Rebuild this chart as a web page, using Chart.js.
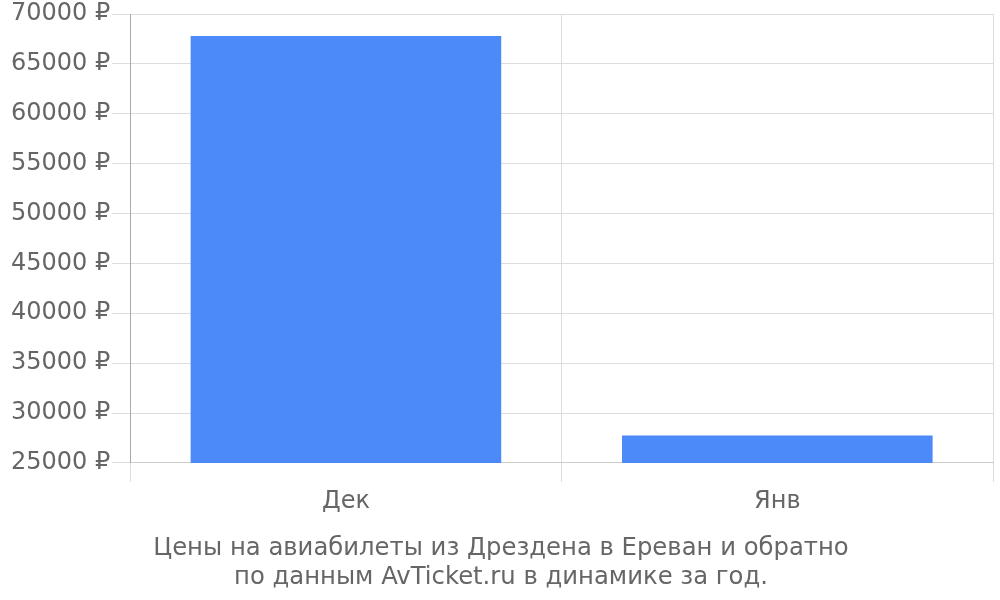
<!DOCTYPE html>
<html><head><meta charset="utf-8">
<script src="https://cdn.jsdelivr.net/npm/chart.js@4"></script>
<style>html,body{margin:0;padding:0;background:#fff}#w{width:1000px;height:600px}</style>
</head><body><div id="w"><canvas id="c"></canvas></div>
<script>
const categories = ["Дек", "Янв"];
const prices = [67800, 27750];
const titleLines = ["Цены на авиабилеты из Дрездена в Ереван и обратно", "по данным AvTicket.ru в динамике за год."];
Chart.defaults.font.family = "'DejaVu Sans'";
Chart.defaults.font.size = 24;
Chart.defaults.color = "#666";
new Chart(document.getElementById('c'), {
  type: 'bar',
  data: { labels: categories, datasets: [{ data: prices, backgroundColor: '#4c89f9', borderWidth: 0 }] },
  options: {
    responsive: true, maintainAspectRatio: false, animation: false,
    layout: { padding: { left: 9, right: 7, top: 0, bottom: 8 } },
    plugins: { legend: { display: false }, tooltip: { enabled: false },
      title: { display: true, position: 'bottom', text: titleLines, font: { size: 24.3, weight: 'normal' }, color: '#666', padding: { top: 13, bottom: 0 } } },
    scales: {
      x: { grid: { color: '#ddd', offset: true, tickLength: 19 }, border: { color: '#ccc' }, ticks: { padding: 5 } },
      y: { min: 25000, max: 70000, ticks: { stepSize: 5000, padding: 2, font: { lineHeight: 1.0 }, callback: v => v + ' ₽' }, grid: { color: '#ddd', tickLength: 18 }, border: { color: '#aaa' } }
    }
  }
});
</script></body></html>
